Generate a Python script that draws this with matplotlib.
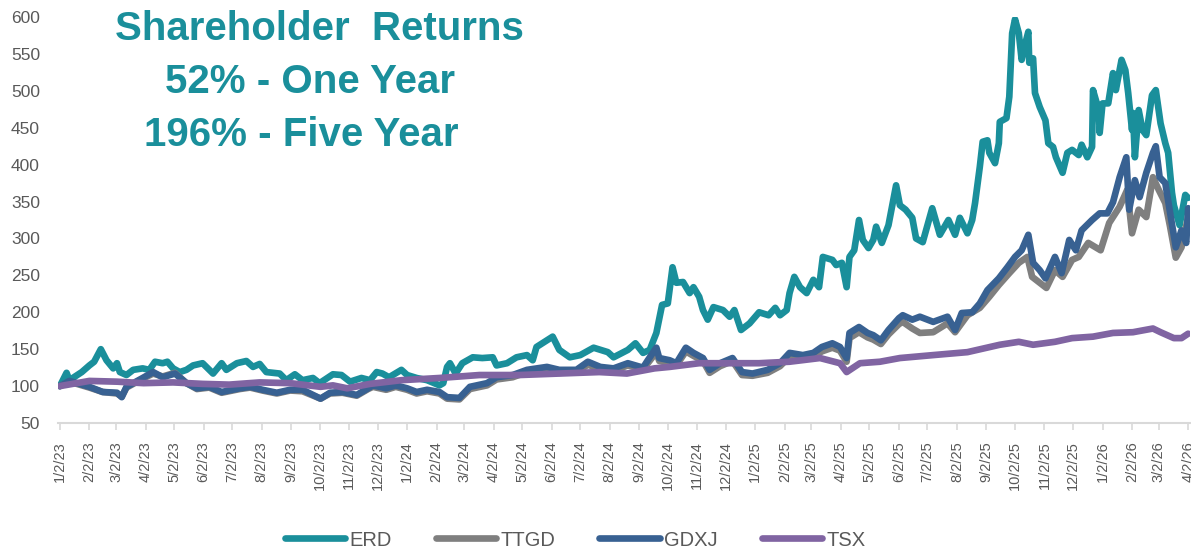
import pandas as pd
import matplotlib
matplotlib.use("Agg")
import matplotlib.pyplot as plt
import matplotlib.dates as mdates
from matplotlib.ticker import FuncFormatter

plt.rcParams['font.family'] = ['Liberation Sans', 'DejaVu Sans']

# ERD
erd_dates = [
    "2023-01-02", "2023-01-09", "2023-01-12", "2023-01-25", "2023-02-02", "2023-02-07", "2023-02-14",
    "2023-02-20", "2023-02-27", "2023-03-03", "2023-03-06", "2023-03-13", "2023-03-20", "2023-03-30",
    "2023-04-06", "2023-04-12", "2023-04-20", "2023-04-25", "2023-05-01", "2023-05-08", "2023-05-15",
    "2023-05-22", "2023-06-01", "2023-06-12", "2023-06-21", "2023-06-26", "2023-07-07", "2023-07-17",
    "2023-07-24", "2023-07-31", "2023-08-07", "2023-08-21", "2023-08-28", "2023-09-06", "2023-09-14",
    "2023-09-25", "2023-10-02", "2023-10-16", "2023-10-25", "2023-11-03", "2023-11-15", "2023-11-24",
    "2023-12-01", "2023-12-07", "2023-12-14", "2023-12-27", "2024-01-02", "2024-01-12", "2024-01-23",
    "2024-02-05", "2024-02-09", "2024-02-13", "2024-02-16", "2024-02-22", "2024-02-29", "2024-03-11",
    "2024-03-21", "2024-04-01", "2024-04-05", "2024-04-16", "2024-04-26", "2024-05-07", "2024-05-13",
    "2024-05-17", "2024-05-28", "2024-06-03", "2024-06-10", "2024-06-21", "2024-07-02", "2024-07-16",
    "2024-07-31", "2024-08-06", "2024-08-21", "2024-08-29", "2024-09-06", "2024-09-13", "2024-09-20",
    "2024-09-26", "2024-10-02", "2024-10-07", "2024-10-11", "2024-10-18", "2024-10-25", "2024-10-29",
    "2024-11-04", "2024-11-08", "2024-11-13", "2024-11-19", "2024-11-29", "2024-12-06", "2024-12-11",
    "2024-12-18", "2024-12-27", "2025-01-06", "2025-01-16", "2025-01-23", "2025-01-28", "2025-02-04",
    "2025-02-07", "2025-02-12", "2025-02-18", "2025-02-25", "2025-03-04", "2025-03-10", "2025-03-14",
    "2025-03-24", "2025-03-28", "2025-04-03", "2025-04-08", "2025-04-11", "2025-04-16", "2025-04-21",
    "2025-04-25", "2025-05-01", "2025-05-06", "2025-05-09", "2025-05-15", "2025-05-22", "2025-05-30",
    "2025-06-03", "2025-06-09", "2025-06-16", "2025-06-20", "2025-06-27", "2025-07-07", "2025-07-15",
    "2025-07-24", "2025-07-31", "2025-08-05", "2025-08-13", "2025-08-18", "2025-08-21", "2025-08-26",
    "2025-08-29", "2025-09-03", "2025-09-05", "2025-09-11", "2025-09-15", "2025-09-16", "2025-09-23",
    "2025-09-26", "2025-09-29", "2025-10-02", "2025-10-06", "2025-10-09", "2025-10-13", "2025-10-16",
    "2025-10-17", "2025-10-21", "2025-10-23", "2025-10-28", "2025-11-03", "2025-11-06", "2025-11-11",
    "2025-11-14", "2025-11-21", "2025-11-26", "2025-12-01", "2025-12-08", "2025-12-11", "2025-12-17",
    "2025-12-22", "2025-12-23", "2025-12-29", "2025-12-30", "2026-01-02", "2026-01-08", "2026-01-13",
    "2026-01-16", "2026-01-22", "2026-01-26", "2026-01-29", "2026-02-02", "2026-02-03", "2026-02-05",
    "2026-02-09", "2026-02-13", "2026-02-17", "2026-02-23", "2026-02-27", "2026-03-04", "2026-03-09",
    "2026-03-12", "2026-03-16", "2026-03-18", "2026-03-24", "2026-03-30", "2026-04-02",
]
erd_values = [
    100, 118, 108, 119, 128, 133, 150,
    135, 124, 131, 119, 115, 122, 124,
    122, 133, 131, 133, 124, 119, 122,
    128, 131, 117, 131, 122, 131, 134,
    126, 130, 119, 117, 108, 116, 108,
    111, 104, 116, 115, 106, 111, 108,
    119, 117, 112, 122, 115, 111, 108,
    101, 104, 126, 131, 117, 131, 139,
    138, 139, 128, 131, 139, 142, 135,
    153, 162, 167, 149, 139, 142, 152,
    146, 139, 149, 158, 145, 149, 172,
    210, 212, 261, 240, 241, 226, 234,
    221, 203, 190, 207, 203, 194, 203,
    176, 185, 200, 196, 206, 196, 203,
    226, 248, 234, 226, 244, 234, 275,
    271, 264, 267, 234, 275, 284, 325,
    298, 287, 298, 316, 294, 318, 372,
    345, 339, 328, 300, 295, 341, 305,
    325, 305, 328, 307, 325, 348, 397,
    431, 433, 416, 402, 429, 458, 463,
    492, 578, 597, 578, 542, 565, 580,
    538, 544, 497, 478, 460, 429, 424,
    410, 389, 416, 420, 413, 427, 410,
    424, 501, 474, 443, 483, 483, 524,
    501, 542, 528, 497, 447, 470, 410,
    474, 447, 440, 494, 501, 456, 429,
    416, 362, 345, 318, 359, 355,
]

# GDXJ
gdxj_dates = [
    "2023-01-02", "2023-01-12", "2023-02-02", "2023-02-16", "2023-03-03", "2023-03-08", "2023-03-13",
    "2023-03-30", "2023-04-10", "2023-04-20", "2023-05-03", "2023-05-15", "2023-05-26", "2023-06-08",
    "2023-06-21", "2023-07-10", "2023-07-21", "2023-08-03", "2023-08-18", "2023-09-01", "2023-09-14",
    "2023-10-03", "2023-10-13", "2023-10-26", "2023-11-10", "2023-11-22", "2023-11-27", "2023-12-11",
    "2023-12-21", "2024-01-02", "2024-01-12", "2024-01-23", "2024-02-05", "2024-02-13", "2024-02-26",
    "2024-03-08", "2024-03-26", "2024-04-05", "2024-04-22", "2024-05-07", "2024-05-28", "2024-06-10",
    "2024-06-28", "2024-07-10", "2024-07-23", "2024-08-06", "2024-08-21", "2024-09-06", "2024-09-11",
    "2024-09-20", "2024-09-23", "2024-10-04", "2024-10-11", "2024-10-21", "2024-10-29", "2024-11-08",
    "2024-11-15", "2024-11-26", "2024-12-09", "2024-12-19", "2024-12-30", "2025-01-15", "2025-01-28",
    "2025-02-07", "2025-02-21", "2025-03-04", "2025-03-13", "2025-03-24", "2025-04-01", "2025-04-08",
    "2025-04-11", "2025-04-21", "2025-04-30", "2025-05-06", "2025-05-14", "2025-05-22", "2025-06-02",
    "2025-06-06", "2025-06-16", "2025-06-24", "2025-07-08", "2025-07-23", "2025-07-31", "2025-08-07",
    "2025-08-18", "2025-08-26", "2025-09-03", "2025-09-15", "2025-09-24", "2025-10-02", "2025-10-09",
    "2025-10-16", "2025-10-21", "2025-10-28", "2025-11-03", "2025-11-13", "2025-11-20", "2025-11-28",
    "2025-12-05", "2025-12-11", "2025-12-22", "2025-12-30", "2026-01-07", "2026-01-13", "2026-01-20",
    "2026-01-27", "2026-01-30", "2026-02-05", "2026-02-10", "2026-02-17", "2026-02-24", "2026-02-27",
    "2026-03-03", "2026-03-09", "2026-03-13", "2026-03-20", "2026-03-26", "2026-03-31", "2026-04-02",
]
gdxj_values = [
    100, 107, 99, 92, 91, 85, 99,
    111, 119, 112, 117, 104, 97, 99,
    92, 97, 99, 95, 91, 95, 95,
    83, 91, 92, 88, 97, 101, 97,
    101, 97, 92, 95, 92, 85, 84,
    99, 104, 112, 115, 122, 126, 122,
    122, 133, 126, 124, 131, 125, 135,
    152, 138, 135, 131, 152, 145, 138,
    122, 131, 138, 119, 117, 122, 131,
    145, 142, 145, 153, 158, 153, 138,
    172, 180, 172, 169, 162, 176, 192,
    196, 190, 194, 187, 194, 176, 199,
    200, 212, 230, 246, 261, 275, 284,
    305, 267, 257, 246, 275, 253, 298,
    284, 311, 325, 334, 334, 349, 383,
    410, 339, 379, 356, 389, 416, 425,
    383, 375, 343, 288, 311, 294, 341,
]

# TTGD
ttgd_dates = [
    "2023-01-02", "2023-01-12", "2023-02-02", "2023-02-16", "2023-03-03", "2023-03-08", "2023-03-13",
    "2023-03-30", "2023-04-10", "2023-04-20", "2023-05-03", "2023-05-15", "2023-05-26", "2023-06-08",
    "2023-06-21", "2023-07-10", "2023-07-21", "2023-08-03", "2023-08-18", "2023-09-01", "2023-09-14",
    "2023-10-03", "2023-10-13", "2023-10-26", "2023-11-10", "2023-11-22", "2023-11-27", "2023-12-11",
    "2023-12-21", "2024-01-02", "2024-01-12", "2024-01-23", "2024-02-05", "2024-02-13", "2024-02-26",
    "2024-03-08", "2024-03-26", "2024-04-05", "2024-04-22", "2024-05-07", "2024-05-28", "2024-06-10",
    "2024-06-28", "2024-07-10", "2024-07-23", "2024-08-06", "2024-08-21", "2024-09-06", "2024-09-11",
    "2024-09-20", "2024-09-23", "2024-10-04", "2024-10-11", "2024-10-21", "2024-10-29", "2024-11-08",
    "2024-11-15", "2024-11-26", "2024-12-09", "2024-12-19", "2024-12-30", "2025-01-15", "2025-01-28",
    "2025-02-07", "2025-02-21", "2025-03-04", "2025-03-13", "2025-03-24", "2025-04-01", "2025-04-08",
    "2025-04-11", "2025-04-21", "2025-04-30", "2025-05-06", "2025-05-14", "2025-05-22", "2025-06-02",
    "2025-06-06", "2025-06-16", "2025-06-24", "2025-07-08", "2025-07-23", "2025-07-31", "2025-08-13",
    "2025-08-26", "2025-09-05", "2025-09-15", "2025-09-26", "2025-10-06", "2025-10-15", "2025-10-20",
    "2025-10-28", "2025-11-04", "2025-11-13", "2025-11-21", "2025-12-01", "2025-12-08", "2025-12-18",
    "2025-12-31", "2026-01-09", "2026-01-20", "2026-01-28", "2026-02-02", "2026-02-09", "2026-02-17",
    "2026-02-24", "2026-03-02", "2026-03-09", "2026-03-14", "2026-03-20", "2026-03-26", "2026-04-02",
]
ttgd_values = [
    100, 106, 98, 92, 90, 86, 98,
    110, 117, 113, 118, 104, 96, 98,
    91, 96, 98, 94, 90, 94, 93,
    83, 90, 91, 87, 96, 99, 95,
    99, 95, 90, 93, 90, 83, 82,
    96, 101, 109, 112, 119, 123, 118,
    119, 129, 123, 121, 128, 123, 131,
    146, 134, 131, 128, 147, 141, 134,
    118, 127, 134, 115, 114, 118, 127,
    140, 137, 140, 147, 152, 148, 133,
    165, 173, 166, 163, 157, 170, 184,
    187, 178, 172, 173, 185, 173, 196,
    206, 221, 237, 253, 267, 275, 248,
    240, 233, 257, 248, 271, 275, 294,
    284, 321, 343, 366, 307, 339, 329,
    383, 366, 348, 316, 274, 288, 329,
]

# TSX
tsx_dates = [
    "2023-01-02", "2023-02-02", "2023-03-03", "2023-03-31", "2023-05-01", "2023-06-01", "2023-06-29",
    "2023-07-31", "2023-09-01", "2023-10-03", "2023-10-16", "2023-10-31", "2023-11-24", "2023-12-27",
    "2024-02-05", "2024-03-18", "2024-04-29", "2024-06-10", "2024-07-22", "2024-08-20", "2024-09-18",
    "2024-10-04", "2024-11-04", "2024-12-06", "2025-01-06", "2025-02-07", "2025-03-11", "2025-04-01",
    "2025-04-08", "2025-04-22", "2025-05-13", "2025-06-03", "2025-07-08", "2025-08-13", "2025-09-16",
    "2025-10-06", "2025-10-21", "2025-11-13", "2025-12-01", "2025-12-23", "2026-01-13", "2026-02-03",
    "2026-02-24", "2026-03-04", "2026-03-18", "2026-03-26", "2026-04-02",
]
tsx_values = [
    100, 107, 106, 104, 105, 103, 102,
    105, 104, 99, 101, 97, 103, 108,
    111, 115, 115, 117, 119, 117, 124,
    126, 131, 131, 131, 133, 138, 131,
    119, 131, 133, 138, 142, 146, 156,
    160, 156, 160, 165, 167, 172, 173,
    178, 173, 165, 165, 171,
]

series = [
    ("ERD", erd_dates, erd_values, "#1A8F9B"),
    ("TTGD", ttgd_dates, ttgd_values, "#7F7F7F"),
    ("GDXJ", gdxj_dates, gdxj_values, "#386192"),
    ("TSX", tsx_dates, tsx_values, "#8064A2"),
]

fig = plt.figure(figsize=(11.91, 5.49), dpi=100)
ax = fig.add_axes([0.0487, 0.2295, 0.9505, 0.7395])

for name, d, v, c in series:
    ax.plot(pd.to_datetime(d), v, color=c, lw=4.8, label=name,
            solid_joinstyle="round", solid_capstyle="round")

ax.set_xlim(pd.Timestamp("2022-12-31"), pd.Timestamp("2026-04-04"))
ax.set_ylim(50, 600)
ax.set_yticks(range(50, 601, 50))

ax.xaxis.set_major_locator(mdates.MonthLocator(bymonthday=2))
ax.xaxis.set_major_formatter(FuncFormatter(
    lambda x, pos: (lambda d: f"{d.month}/{d.day}/{d.year % 100:02d}")(mdates.num2date(x))))

for s in ["top", "right", "left"]:
    ax.spines[s].set_visible(False)
ax.spines["bottom"].set_color("#D9D9D9")
ax.spines["bottom"].set_linewidth(1.5)
ax.tick_params(axis="x", colors="#D9D9D9", length=5, width=1.2, labelcolor="#595959",
               labelsize=10.5, labelrotation=90, pad=8)
ax.tick_params(axis="y", length=0, labelcolor="#595959", labelsize=12.5, pad=13)

# headline text
teal = "#1A8F9B"
fig.text(319 / 1191, 1 - 29 / 549, "Shareholder  Returns", color=teal, fontsize=29,
         fontweight="bold", ha="center", va="center")
fig.text(310 / 1191, 1 - 82 / 549, "52% - One Year", color=teal, fontsize=29,
         fontweight="bold", ha="center", va="center")
fig.text(301 / 1191, 1 - 135 / 549, "196% - Five Year", color=teal, fontsize=29,
         fontweight="bold", ha="center", va="center")

fig.legend(loc="center", bbox_to_anchor=(575 / 1191, 1 - 540 / 549), ncol=4, frameon=False,
           fontsize=14.5, labelcolor="#595959", handlelength=3.0, columnspacing=2.2, handletextpad=0.2)

fig.savefig("out.png", dpi=100)
